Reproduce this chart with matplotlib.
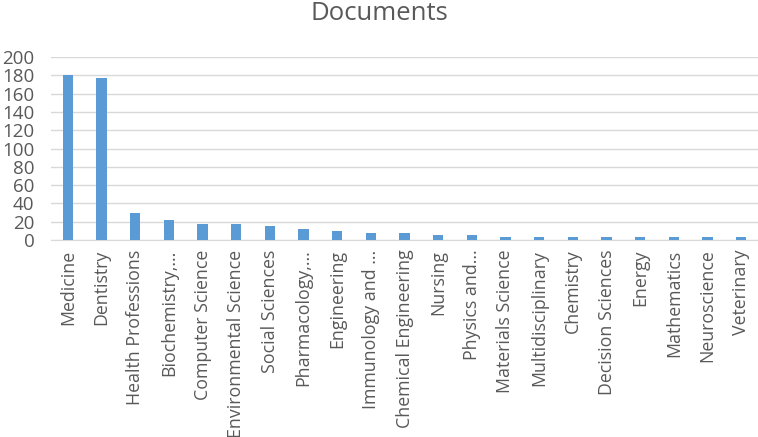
import numpy as np
import matplotlib.pyplot as plt

# data
fag = ["Medicine", "Dentistry", "Health Professions", "Biochemistry,...",
       "Computer Science", "Environmental Science", "Social Sciences",
       "Pharmacology,...", "Engineering", "Immunology and ...",
       "Chemical Engineering", "Nursing", "Physics and...",
       "Materials Science", "Multidisciplinary", "Chemistry",
       "Decision Sciences", "Energy", "Mathematics", "Neuroscience",
       "Veterinary"]
dokumenter = [180, 177, 29, 22, 17, 17, 15, 12, 10, 8, 8, 6, 6,
              3, 3, 3, 3, 3, 3, 3, 3]
y_ticks = [0, 20, 40, 60, 80, 100, 120, 140, 160, 180, 200]

plt.rcParams["font.family"] = ["Open Sans", "DejaVu Sans"]
tekst_farge = "#595959"

fig = plt.figure(figsize=(7.58, 4.37), dpi=100)
ax = fig.add_axes([51 / 758, 197 / 437, 707 / 758, 183 / 437])

x = np.arange(len(fag))
ax.bar(x, dokumenter, width=0.3, color="#5b9bd5", zorder=3)

ax.set_xlim(-0.5, len(fag) - 0.5)
ax.set_ylim(0, 200)
ax.set_yticks(y_ticks)
ax.set_xticks(x)
ax.set_xticklabels(fag, rotation=90, ha="center", va="top")

ax.tick_params(axis="both", length=0, colors=tekst_farge)
ax.tick_params(axis="x", pad=7, labelsize=12.8)
ax.tick_params(axis="y", pad=12, labelsize=13.5)

ax.grid(axis="y", color="#d9d9d9", linewidth=1, zorder=0)
for side in ["top", "right", "left"]:
    ax.spines[side].set_visible(False)
ax.spines["bottom"].set_color("#d9d9d9")

fig.text(0.5, 1 - 20 / 437, "Documents", ha="center", va="baseline",
         fontsize=18.5, color=tekst_farge)

fig.savefig("out.png", dpi=100)
